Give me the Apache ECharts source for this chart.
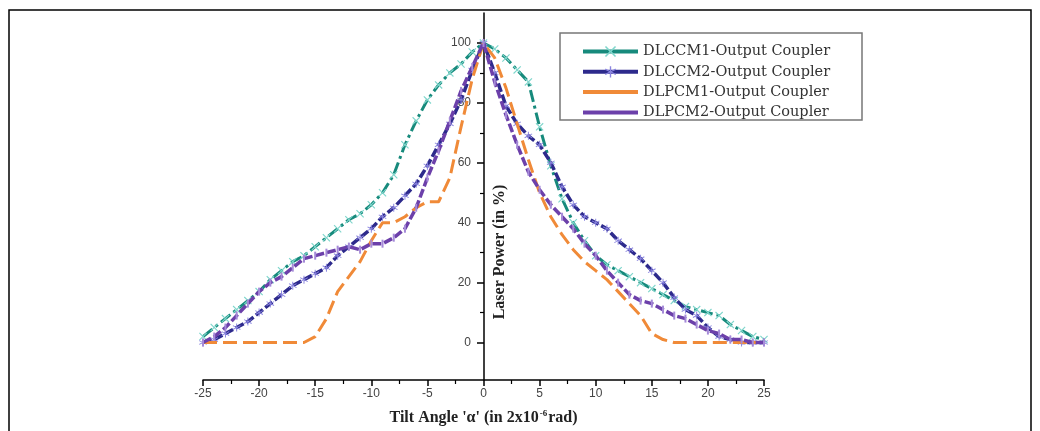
<!DOCTYPE html>
<html>
<head>
<meta charset="utf-8">
<script src="https://cdn.jsdelivr.net/npm/echarts@6/dist/echarts.min.js"></script>
<style>html,body{margin:0;padding:0;background:#fff}#c{width:1040px;height:431px}</style>
</head>
<body>
<div id="c"></div>
<script>
// ---- data ----
const xValues = [-25,-24,-23,-22,-21,-20,-19,-18,-17,-16,-15,-14,-13,-12,-11,-10,-9,-8,-7,-6,-5,-4,-3,-2,-1,
  0,1,2,3,4,5,6,7,8,9,10,11,12,13,14,15,16,17,18,19,20,21,22,23,24,25];
const seriesNames = ['DLCCM1-Output Coupler','DLCCM2-Output Coupler','DLPCM1-Output Coupler','DLPCM2-Output Coupler'];
const dlccm1 = [2,5,8,11,14,17,21,24,27,29,32,35,38,41,43,46,50,56,66,74,81,86,90,93,97,
  100,98,95,91,87,72,59,48,40,34,29,26,24,22,20,18,16,14,12,11,10,9,6,4,2,1];
const dlccm2 = [0,1,3,5,7,10,13,16,19,21,23,25,29,32,35,38,42,45,49,53,59,66,73,81,91,
  100,90,79,73,69,66,60,52,46,42,40,38,34,31,28,24,20,15,11,9,5,2,1,0,0,0];
const dlpcm1 = [0,0,0,0,0,0,0,0,0,0,2,8,17,22,27,34,40,40,42,45,47,47,55,72,88,
  100,95,85,73,61,50,42,36,31,27,24,21,17,13,9,3,1,0,0,0,0,0,0,0,0,0];
const dlpcm2 = [0,2,5,9,13,17,20,22,25,28,29,30,31,32,31,33,33,35,38,45,55,64,74,84,92,
  100,87,76,66,57,51,46,42,38,33,29,24,20,16,14,13,11,9,8,6,4,3,1,1,0,0];
const yTicks = [0,20,40,60,80,100];
const yMinorTicks = [10,30,50,70,90];

const toPts = arr => xValues.map((x,i)=>[x,arr[i]]);
const X_SYM = 'path://M0,1L1,0L5,4L9,0L10,1L6,5L10,9L9,10L5,6L1,10L0,9L4,5Z';
const STAR_SYM = 'path://M4.4,0H5.6V4.2L9.3,2.1L9.9,3.1L6.2,5L9.9,6.9L9.3,7.9L5.6,5.8V10H4.4V5.8L0.7,7.9L0.1,6.9L3.8,5L0.1,3.1L0.7,2.1L4.4,4.2Z';
const BAR_SYM = 'path://M0,0H1V10H0Z';
const serif = 'Liberation Serif';
const Y_OFFSET = -281; // moves the y axis from the grid's left edge to x = 0

const chart = echarts.init(document.getElementById('c'), null, {renderer:'canvas'});
chart.setOption({
  animation:false,
  backgroundColor:'#fff',
  grid:{left:203, right:276, top:13, bottom:50.5, containLabel:false},
  xAxis:{
    type:'value', min:-25, max:25, interval:5,
    axisLine:{onZero:false, lineStyle:{color:'#000', width:1.5}},
    axisTick:{length:6, lineStyle:{color:'#000', width:1.5}},
    minorTick:{show:true, splitNumber:2, length:4, lineStyle:{color:'#000', width:1.2}},
    splitLine:{show:false},
    axisLabel:{color:'#444', fontSize:12, fontFamily:'Liberation Sans', margin:8},
    name:"Tilt Angle 'α' (in 2x10{sup|-6}rad)",
    nameLocation:'middle', nameGap:29,
    nameTextStyle:{fontFamily:serif, fontWeight:'bold', fontSize:16, color:'#222',
      rich:{sup:{fontSize:9, fontWeight:'bold', fontFamily:serif, color:'#222', verticalAlign:'top', padding:[0,1,9,1]}}}
  },
  yAxis:[{
    type:'value', min:-12.5, max:110, position:'left', offset:Y_OFFSET,
    axisLine:{onZero:false, lineStyle:{color:'#000', width:1.5}},
    axisTick:{customValues:yTicks, length:7, lineStyle:{color:'#000', width:1.5}},
    axisLabel:{customValues:yTicks, color:'#444', fontSize:12, fontFamily:'Liberation Sans', margin:13},
    splitLine:{show:false}
  },{
    type:'value', min:-12.5, max:110, position:'left', offset:Y_OFFSET,
    axisLine:{show:false, onZero:false},
    axisTick:{customValues:yMinorTicks, length:4, lineStyle:{color:'#000', width:1.2}},
    axisLabel:{show:false},
    splitLine:{show:false}
  }],
  legend:{
    orient:'vertical', left:576, top:39, itemWidth:55, itemHeight:14, itemGap:5.3,
    data:[
      {name:seriesNames[0]},
      {name:seriesNames[1]},
      {name:seriesNames[2], itemStyle:{color:'rgba(0,0,0,0)', borderWidth:0}},
      {name:seriesNames[3], itemStyle:{color:'rgba(0,0,0,0)', borderWidth:0}}
    ],
    lineStyle:{type:'solid', width:4},
    textStyle:{fontFamily:'DejaVu Serif', fontSize:14.5, color:'#333'}
  },
  graphic:[
    {type:'rect', shape:{x:9, y:10, width:1022, height:440}, style:{fill:'none', stroke:'#000', lineWidth:1.5}, z:-1},
    {type:'rect', shape:{x:560, y:33, width:302, height:87}, style:{fill:'#fff', stroke:'#777', lineWidth:1.5}, z:0},
    {type:'text', x:500, y:252, rotation:Math.PI/2,
     style:{text:'Laser Power (in %)', fontFamily:serif, fontWeight:'bold', fontSize:16, fill:'#222', align:'center', verticalAlign:'middle'}}
  ],
  series:[
    {name:seriesNames[0], type:'line', data:toPts(dlccm1), symbol:X_SYM, symbolSize:8, showSymbol:true,
     lineStyle:{color:'#178a7c', width:3, type:[12,4,3,4]}, itemStyle:{color:'#7fd6cc'}, z:2},
    {name:seriesNames[1], type:'line', data:toPts(dlccm2), symbol:STAR_SYM, symbolSize:8,
     lineStyle:{color:'#2d2a8c', width:3.5, type:[9,3]}, itemStyle:{color:'#8a84e0'}, z:3},
    {name:seriesNames[2], type:'line', data:toPts(dlpcm1), symbol:'none',
     lineStyle:{color:'#f08a38', width:3, type:[14,6]}, itemStyle:{color:'#f08a38'}, z:4},
    {name:seriesNames[3], type:'line', data:toPts(dlpcm2), symbol:BAR_SYM, symbolSize:[2,8],
     lineStyle:{color:'#6c40aa', width:3.5, type:[9,3]}, itemStyle:{color:'#a58ad8'}, z:5}
  ]
});
</script>
</body>
</html>
